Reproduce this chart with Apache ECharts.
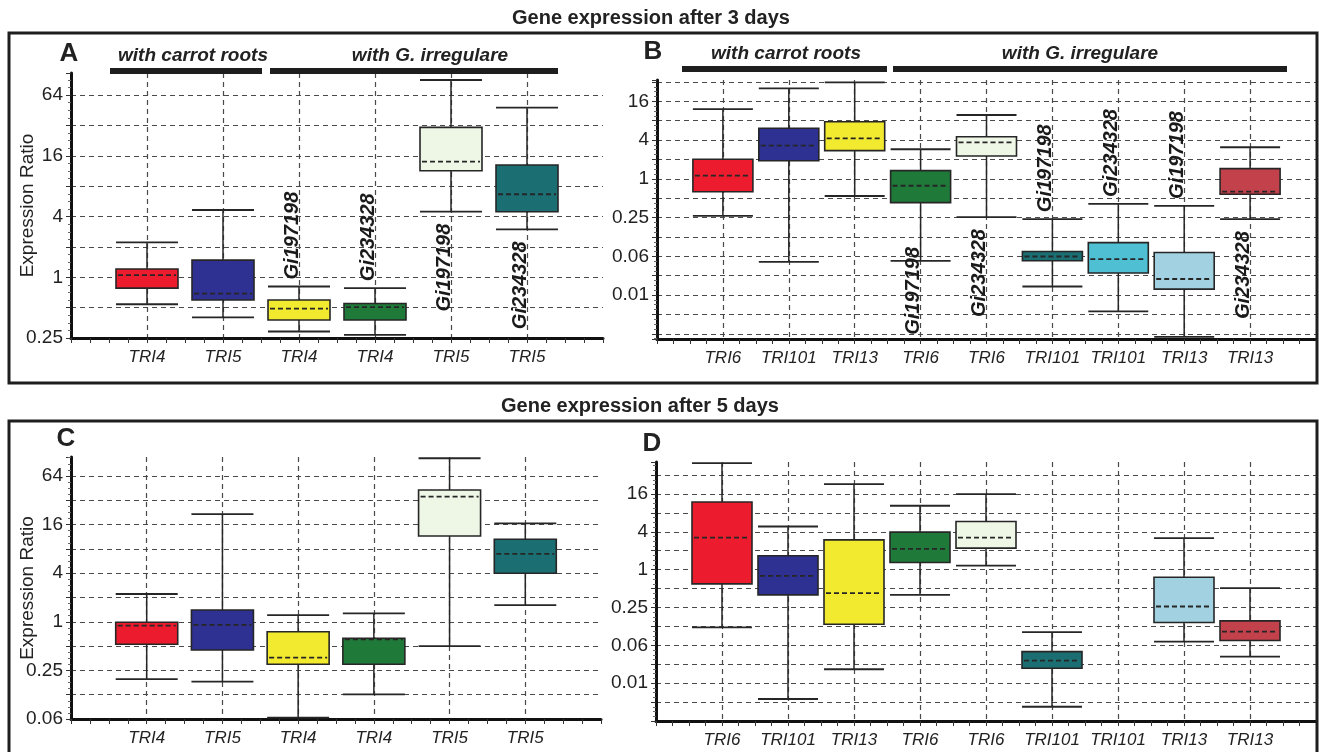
<!DOCTYPE html>
<html>
<head>
<meta charset="UTF-8">
<title>Gene expression after 3 and 5 days</title>
<script src="https://cdn.jsdelivr.net/npm/echarts@6.0.0/dist/echarts.min.js"></script>
<style>
  html, body { margin: 0; padding: 0; background: #fff; }
  #main { width: 1319px; height: 752px; }
</style>
</head>
<body>
<div id="main"></div>
<script>
// categories, one empty slot at each end of every axis
var catsA = ['', 'TRI4', 'TRI5', 'TRI4', 'TRI4', 'TRI5', 'TRI5', ''];
var catsB = ['', 'TRI6', 'TRI101', 'TRI13', 'TRI6', 'TRI6', 'TRI101', 'TRI101', 'TRI13', 'TRI13', ''];
var catsC = ['', 'TRI4', 'TRI5', 'TRI4', 'TRI4', 'TRI5', 'TRI5', ''];
var catsD = ['', 'TRI6', 'TRI101', 'TRI13', 'TRI6', 'TRI6', 'TRI101', 'TRI101', 'TRI13', 'TRI13', ''];

// expression ratio per box: [low whisker, Q1, median, Q3, high whisker]
var boxesA = [
    [0.54, 0.78, 1.05, 1.21, 2.22],
    [0.40, 0.595, 0.69, 1.48, 4.65],
    [0.29, 0.377, 0.49, 0.595, 0.81],
    [0.268, 0.377, 0.507, 0.55, 0.78],
    [4.47, 11.4, 14.0, 30.7, 90.5],
    [2.99, 4.47, 6.66, 13.0, 48.1]
];
var boxesB = [
    [0.265, 0.63, 1.12, 2.01, 12.1],
    [0.051, 1.91, 3.27, 6.09, 25.4],
    [0.54, 2.74, 4.26, 7.71, 31.5],
    [0.053, 0.427, 0.78, 1.34, 2.88],
    [0.254, 2.26, 3.69, 4.51, 9.8],
    [0.0212, 0.0532, 0.062, 0.0742, 0.236],
    [0.0087, 0.0343, 0.0564, 0.102, 0.407],
    [0.0035, 0.0193, 0.0277, 0.0716, 0.379],
    [0.236, 0.576, 0.632, 1.44, 3.09]
];
var boxesC = [
    [0.195, 0.526, 0.895, 0.985, 2.21],
    [0.181, 0.447, 0.913, 1.40, 21.5],
    [0.0649, 0.298, 0.359, 0.754, 1.21],
    [0.126, 0.298, 0.607, 0.624, 1.27],
    [0.50, 11.56, 35.5, 42.9, 106],
    [1.61, 3.99, 6.92, 10.52, 16.6]
];
var boxesD = [
    [0.121, 0.594, 3.24, 11.9, 49.7],
    [0.00875, 0.397, 0.797, 1.66, 4.86],
    [0.026, 0.135, 0.422, 2.98, 23.0],
    [0.397, 1.30, 2.14, 3.96, 10.4],
    [1.16, 2.20, 3.24, 5.84, 15.9],
    [0.00658, 0.027, 0.0357, 0.0496, 0.101],
    null,
    [0.0716, 0.144, 0.259, 0.759, 3.18],
    [0.0413, 0.0744, 0.103, 0.153, 0.507]
];

// gene labels written next to some boxes
var genesA = ['', '', 'Gi197198', 'Gi234328', 'Gi197198', 'Gi234328'];
var genesB = ['', '', '', 'Gi197198', 'Gi234328', 'Gi197198', 'Gi234328', 'Gi197198', 'Gi234328'];

// y tick labels (ratio values and the text printed for them)
var yTickValsA = [0.25, 1, 4, 16, 64];
var yTickTextA = ['0.25', '1', '4', '16', '64'];
var yTickValsB = [0.015625, 0.0625, 0.25, 1, 4, 16];
var yTickTextB = ['0.01', '0.06', '0.25', '1', '4', '16'];
var yTickValsC = [0.0625, 0.25, 1, 4, 16, 64];
var yTickTextC = ['0.06', '0.25', '1', '4', '16', '64'];
var yTickValsD = yTickValsB;
var yTickTextD = yTickTextB;

// styles
var colorsA = ['#ec1c2e', '#2e3192', '#f2ea2e', '#1f7a3a', '#eef6e6', '#1b6e72'];
var colorsB = ['#ec1c2e', '#2e3192', '#f2ea2e', '#1f7a3a', '#eef6e6', '#1b6e72', '#4fbfd3', '#a2d1e1', '#c2414b'];
var colorsD = ['#ec1c2e', '#2e3192', '#f2ea2e', '#1f7a3a', '#eef6e6', '#1b6e72', null, '#a2d1e1', '#c2414b'];
var sidesA = ['', '', 'up', 'up', 'down', 'down'];
var sidesB = ['', '', '', 'down', 'down', 'up', 'up', 'up', 'down'];

var font = "'Liberation Sans', Arial, sans-serif";
var ink = '#222';
var gridCol = '#4a4a4a';

// y extents are in log2 units
var panels = [
    {cats: catsA, boxes: boxesA, colors: colorsA, genes: genesA, sides: sidesA, yMin: -2, yMax: 6.73,
        tv: yTickValsA, tt: yTickTextA, grid: {left: 71, top: 73, width: 532, height: 265}, boxW: 62, name: true},
    {cats: catsB, boxes: boxesB, colors: colorsB, genes: genesB, sides: sidesB, yMin: -8.27, yMax: 5.1,
        tv: yTickValsB, tt: yTickTextB, grid: {left: 657, top: 80, width: 661, height: 259}, boxW: 60, name: false},
    {cats: catsC, boxes: boxesC, colors: colorsA, genes: [], sides: [], yMin: -4, yMax: 6.78,
        tv: yTickValsC, tt: yTickTextC, grid: {left: 71, top: 457, width: 530, height: 262}, boxW: 62, name: true},
    {cats: catsD, boxes: boxesD, colors: colorsD, genes: [], sides: [], yMin: -8, yMax: 5.69,
        tv: yTickValsD, tt: yTickTextD, grid: {left: 656, top: 462, width: 662, height: 259}, boxW: 60, name: false}
];

function boxRenderer(p) {
    return function (params, api) {
        var i = api.value(0);
        var lo = api.coord([i, api.value(1)]);
        var q1 = api.coord([i, api.value(2)]);
        var md = api.coord([i, api.value(3)]);
        var q3 = api.coord([i, api.value(4)]);
        var hi = api.coord([i, api.value(5)]);
        var bottom = api.coord([i, p.yMin])[1];
        var cx = lo[0], h = p.boxW / 2, k = i - 1;
        function seg(x1, y1, x2, y2, dash, w) {
            return {type: 'line', shape: {x1: x1, y1: y1, x2: x2, y2: y2},
                style: {stroke: '#262626', lineWidth: w || 1.5, lineDash: dash || null}};
        }
        var children = [
            seg(cx, hi[1], cx, q3[1]),
            seg(cx, q1[1], cx, lo[1]),
            seg(cx - h, hi[1], cx + h, hi[1], null, 1.8),
            seg(cx - h, lo[1], cx + h, lo[1], null, 1.8),
            {type: 'rect', shape: {x: cx - h, y: q3[1], width: p.boxW, height: Math.max(q1[1] - q3[1], 1)},
                style: {fill: p.colors[k], stroke: '#262626', lineWidth: 1.6}},
            seg(cx - h + 2, md[1], cx + h - 2, md[1], [5, 3], 1.8)
        ];
        var gene = p.genes[k];
        if (gene) {
            var up = p.sides[k] === 'up';
            var y0 = up ? hi[1] - 7 : lo[1] + 12;
            if (!up && y0 + 88 > bottom - 4) y0 = bottom - 4 - 88;
            children.push({
                type: 'text', x: cx - 7, y: y0, rotation: Math.PI / 2,
                style: {text: gene, fontFamily: font, fontSize: 20, fontWeight: 'bold', fontStyle: 'italic',
                    fill: '#1a1a1a', align: up ? 'left' : 'right', verticalAlign: 'middle'}
            });
        }
        return {type: 'group', children: children};
    };
}

var grids = [], xAxes = [], yAxes = [], series = [];
panels.forEach(function (p, k) {
    grids.push(p.grid);
    var n = p.cats.length;
    xAxes.push({
        type: 'category', gridIndex: k, data: p.cats, boundaryGap: false, position: 'bottom',
        axisLine: {onZero: false, lineStyle: {color: '#111', width: 3}},
        axisTick: {show: false},
        axisLabel: {interval: 0, margin: 11, color: ink, fontFamily: font, fontStyle: 'italic', fontSize: 17},
        splitLine: {show: true, interval: function (idx) { return idx > 0 && idx < n - 1; },
            lineStyle: {color: gridCol, width: 1.2, type: [5, 4]}}
    });
    xAxes.push({
        type: 'value', gridIndex: k, min: 0, max: n - 1, interval: 0.25, position: 'bottom',
        axisLine: {show: false, onZero: false}, axisLabel: {show: false}, splitLine: {show: false},
        axisTick: {show: true, length: 5, lineStyle: {color: '#333', width: 1}}
    });
    yAxes.push({
        type: 'value', gridIndex: k, min: p.yMin, max: p.yMax, minInterval: 1, maxInterval: 1,
        name: p.name ? 'Expression Ratio' : '', nameLocation: 'middle', nameGap: 34, nameMoveOverlap: false,
        nameTextStyle: {fontFamily: font, fontSize: 19, color: ink},
        axisLine: {show: true, onZero: false, lineStyle: {color: '#111', width: 3}},
        axisTick: {show: true, length: 5, lineStyle: {color: '#333'}},
        minorTick: {show: true, splitNumber: 4, length: 3, lineStyle: {color: '#666'}},
        axisLabel: {
            margin: 8, color: ink, fontFamily: font, fontSize: 19, padding: [0, 0, 6, 0],
            formatter: function (v) {
                for (var j = 0; j < p.tv.length; j++) {
                    if (Math.abs(Math.log2(p.tv[j]) - v) < 1e-6) return p.tt[j];
                }
                return '';
            }
        },
        splitLine: {show: true, showMinLine: false, showMaxLine: false,
            lineStyle: {color: gridCol, width: 1.2, type: [5, 4]}}
    });
    var data = [];
    p.boxes.forEach(function (b, j) {
        if (!b) return;
        data.push([j + 1].concat(b.map(function (v) { return Math.log2(v); })));
    });
    series.push({
        type: 'custom', xAxisIndex: 2 * k, yAxisIndex: k,
        encode: {x: 0, y: [1, 2, 3, 4, 5]},
        renderItem: boxRenderer(p), data: data
    });
});

function label(text, x, y, size, weight, style) {
    return {type: 'text', x: x, y: y, z: 10,
        style: {text: text, fontFamily: font, fontSize: size, fontWeight: weight || 'normal',
            fontStyle: style || 'normal', fill: ink, align: 'center', verticalAlign: 'middle'}};
}
function bar(x1, x2, y) {
    return {type: 'rect', z: 10, shape: {x: x1, y: y, width: x2 - x1, height: 6}, style: {fill: '#1e1e1e'}};
}
function frame(y, hgt) {
    return {type: 'rect', z: 10, shape: {x: 9, y: y, width: 1308, height: hgt},
        style: {fill: 'none', stroke: '#1e1e1e', lineWidth: 3}};
}

var graphics = [
    frame(33, 350), frame(421, 360),
    label('Gene expression after 3 days', 651, 18, 20, 'bold'),
    label('Gene expression after 5 days', 640, 406, 20, 'bold'),
    label('A', 69, 54, 26, 'bold'), label('B', 653, 52, 26, 'bold'),
    label('C', 66, 439, 26, 'bold'), label('D', 652, 444, 26, 'bold'),
    label('with carrot roots', 193, 56, 19, 'bold', 'italic'),
    label('with G. irregulare', 430, 56, 19, 'bold', 'italic'),
    label('with carrot roots', 786, 54, 19, 'bold', 'italic'),
    label('with G. irregulare', 1080, 54, 19, 'bold', 'italic'),
    bar(110, 262, 68), bar(270, 558, 68),
    bar(682, 887, 66), bar(893, 1287, 66)
];

var chart = echarts.init(document.getElementById('main'));
chart.setOption({
    animation: false,
    backgroundColor: '#fff',
    grid: grids,
    xAxis: xAxes,
    yAxis: yAxes,
    series: series,
    graphic: graphics
});
</script>
</body>
</html>
